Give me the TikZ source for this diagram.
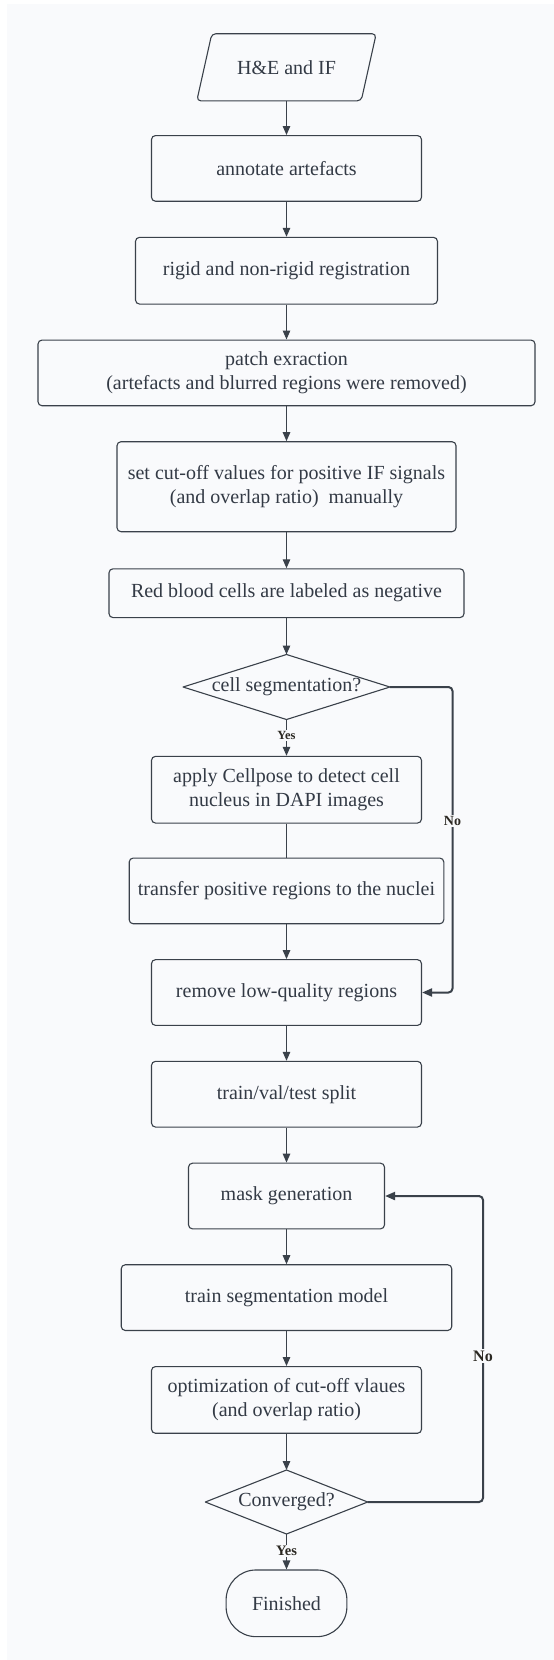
\documentclass[tikz,border=0pt]{standalone}
\usepackage{fontspec}
\setmainfont{Liberation Serif}
\usetikzlibrary{arrows.meta,calc}
\definecolor{bgc}{HTML}{F9FAFC}
\definecolor{linec}{HTML}{3A414A}
\definecolor{txtc}{HTML}{333A45}
\definecolor{lblc}{HTML}{2B2822}
\begin{document}
\begin{tikzpicture}[x=1pt,y=-1pt,
  box/.style={draw=linec, line width=1.1pt, rounded corners=4pt, inner sep=0pt,
    text=txtc, align=center, font=\fontsize{20}{24}\selectfont},
  ghost/.style={inner sep=0pt, text=txtc, align=center, font=\fontsize{20}{24}\selectfont},
  outline/.style={draw=linec, line width=1.1pt, line join=round},
  arr/.style={draw=linec, line width=1.2pt, -{Triangle[length=9pt,width=7.5pt]}},
  plain/.style={draw=linec, line width=1.2pt},
  loop/.style={draw=linec, line width=2pt, rounded corners=4pt, -{Triangle[length=10pt,width=8pt]}},
  lbl/.style={fill=bgc, inner sep=1.5pt, text=lblc, font=\bfseries}
]
\useasboundingbox (0,0) rectangle (554,1660);
\fill[white] (0,0) rectangle (554,1660);
\fill[bgc] (7,4) rectangle (554,1660);

% input parallelogram
\node[ghost, minimum width=179pt, minimum height=66.7pt] (inp) at (286.5,67.3) {H\&E and IF};
\draw[outline, rounded corners=4pt] ($(inp.north west)+(15,0)$) -- (inp.north east)
  -- ($(inp.south east)+(-15,0)$) -- (inp.south west) -- cycle;

\node[box, minimum width=270pt, minimum height=65.7pt] (ann) at (286.5,168.4) {annotate artefacts};
\node[box, minimum width=302pt, minimum height=66.7pt] (reg) at (286.5,270.7) {rigid and non-rigid registration};
\node[box, minimum width=497pt, minimum height=65.7pt] (patch) at (286.5,372.9) {patch exraction\\(artefacts and blurred regions were removed)};
\node[box, minimum width=339pt, minimum height=90pt] (cut) at (286.5,486.7) {set cut-off values for positive IF signals\\(and overlap ratio)\ \ manually};
\node[box, minimum width=355pt, minimum height=48.8pt] (rbc) at (286.5,593.2) {Red blood cells are labeled as negative};

% decision 1
\node[ghost, minimum width=206.5pt, minimum height=64.6pt] (seg) at (286.5,687) {cell segmentation?};
\draw[outline] (seg.north) -- (seg.east) -- (seg.south) -- (seg.west) -- cycle;

\node[box, minimum width=270pt, minimum height=66.7pt] (cp) at (286.5,789.7) {apply Cellpose to detect cell\\nucleus in DAPI images};
\node[box, minimum width=314.6pt, minimum height=65.7pt] (tr) at (286.5,890.9) {transfer positive regions to the nuclei};
\node[box, minimum width=270pt, minimum height=65.7pt] (rm) at (286.5,992.5) {remove low-quality regions};
\node[box, minimum width=270pt, minimum height=65.7pt] (split) at (286.5,1094.2) {train/val/test split};
\node[box, minimum width=196pt, minimum height=65.7pt] (mask) at (286.5,1196) {mask generation};
\node[box, minimum width=330.5pt, minimum height=65.7pt] (tseg) at (286.5,1297.6) {train segmentation model};
\node[box, minimum width=270pt, minimum height=66.7pt] (opt) at (286.5,1399.9) {optimization of cut-off vlaues\\(and overlap ratio)};

% decision 2
\node[ghost, minimum width=162pt, minimum height=63.6pt] (conv) at (286.5,1502) {Converged?};
\draw[outline] (conv.north) -- (conv.east) -- (conv.south) -- (conv.west) -- cycle;

\node[box, rounded corners=30pt, minimum width=120.8pt, minimum height=66.7pt] (fin) at (286.5,1603.3) {Finished};

% connectors
\draw[arr] (inp) -- (ann);
\draw[arr] (ann) -- (reg);
\draw[arr] (reg) -- (patch);
\draw[arr] (patch) -- (cut);
\draw[arr] (cut) -- (rbc);
\draw[arr] (rbc) -- (seg.north);
\draw[arr] (seg.south) -- (cp);
\draw[plain] (cp) -- (tr);
\draw[arr] (tr) -- (rm);
\draw[arr] (rm) -- (split);
\draw[arr] (split) -- (mask);
\draw[arr] (mask) -- (tseg);
\draw[arr] (tseg) -- (opt);
\draw[arr] (opt) -- (conv.north);
\draw[arr] (conv.south) -- (fin);

\coordinate (c1) at (452.5,687);
\coordinate (c2) at (483,1502);
\draw[loop] (seg.east) -- (c1) |- (rm.east);
\draw[loop] (conv.east) -- (c2) |- (mask.east);

% labels
\node[lbl, font=\bfseries\fontsize{12.5}{14}\selectfont] (yes1) at (286.5,735.5) {Yes};
\node[lbl, font=\bfseries\fontsize{14}{16}\selectfont] (no1) at (452.5,821) {No};
\node[lbl, font=\bfseries\fontsize{16}{18}\selectfont] (no2) at (483,1356) {No};
\node[lbl, font=\bfseries\fontsize{14.5}{17}\selectfont] (yes2) at (286.5,1551) {Yes};
\end{tikzpicture}
\end{document}
